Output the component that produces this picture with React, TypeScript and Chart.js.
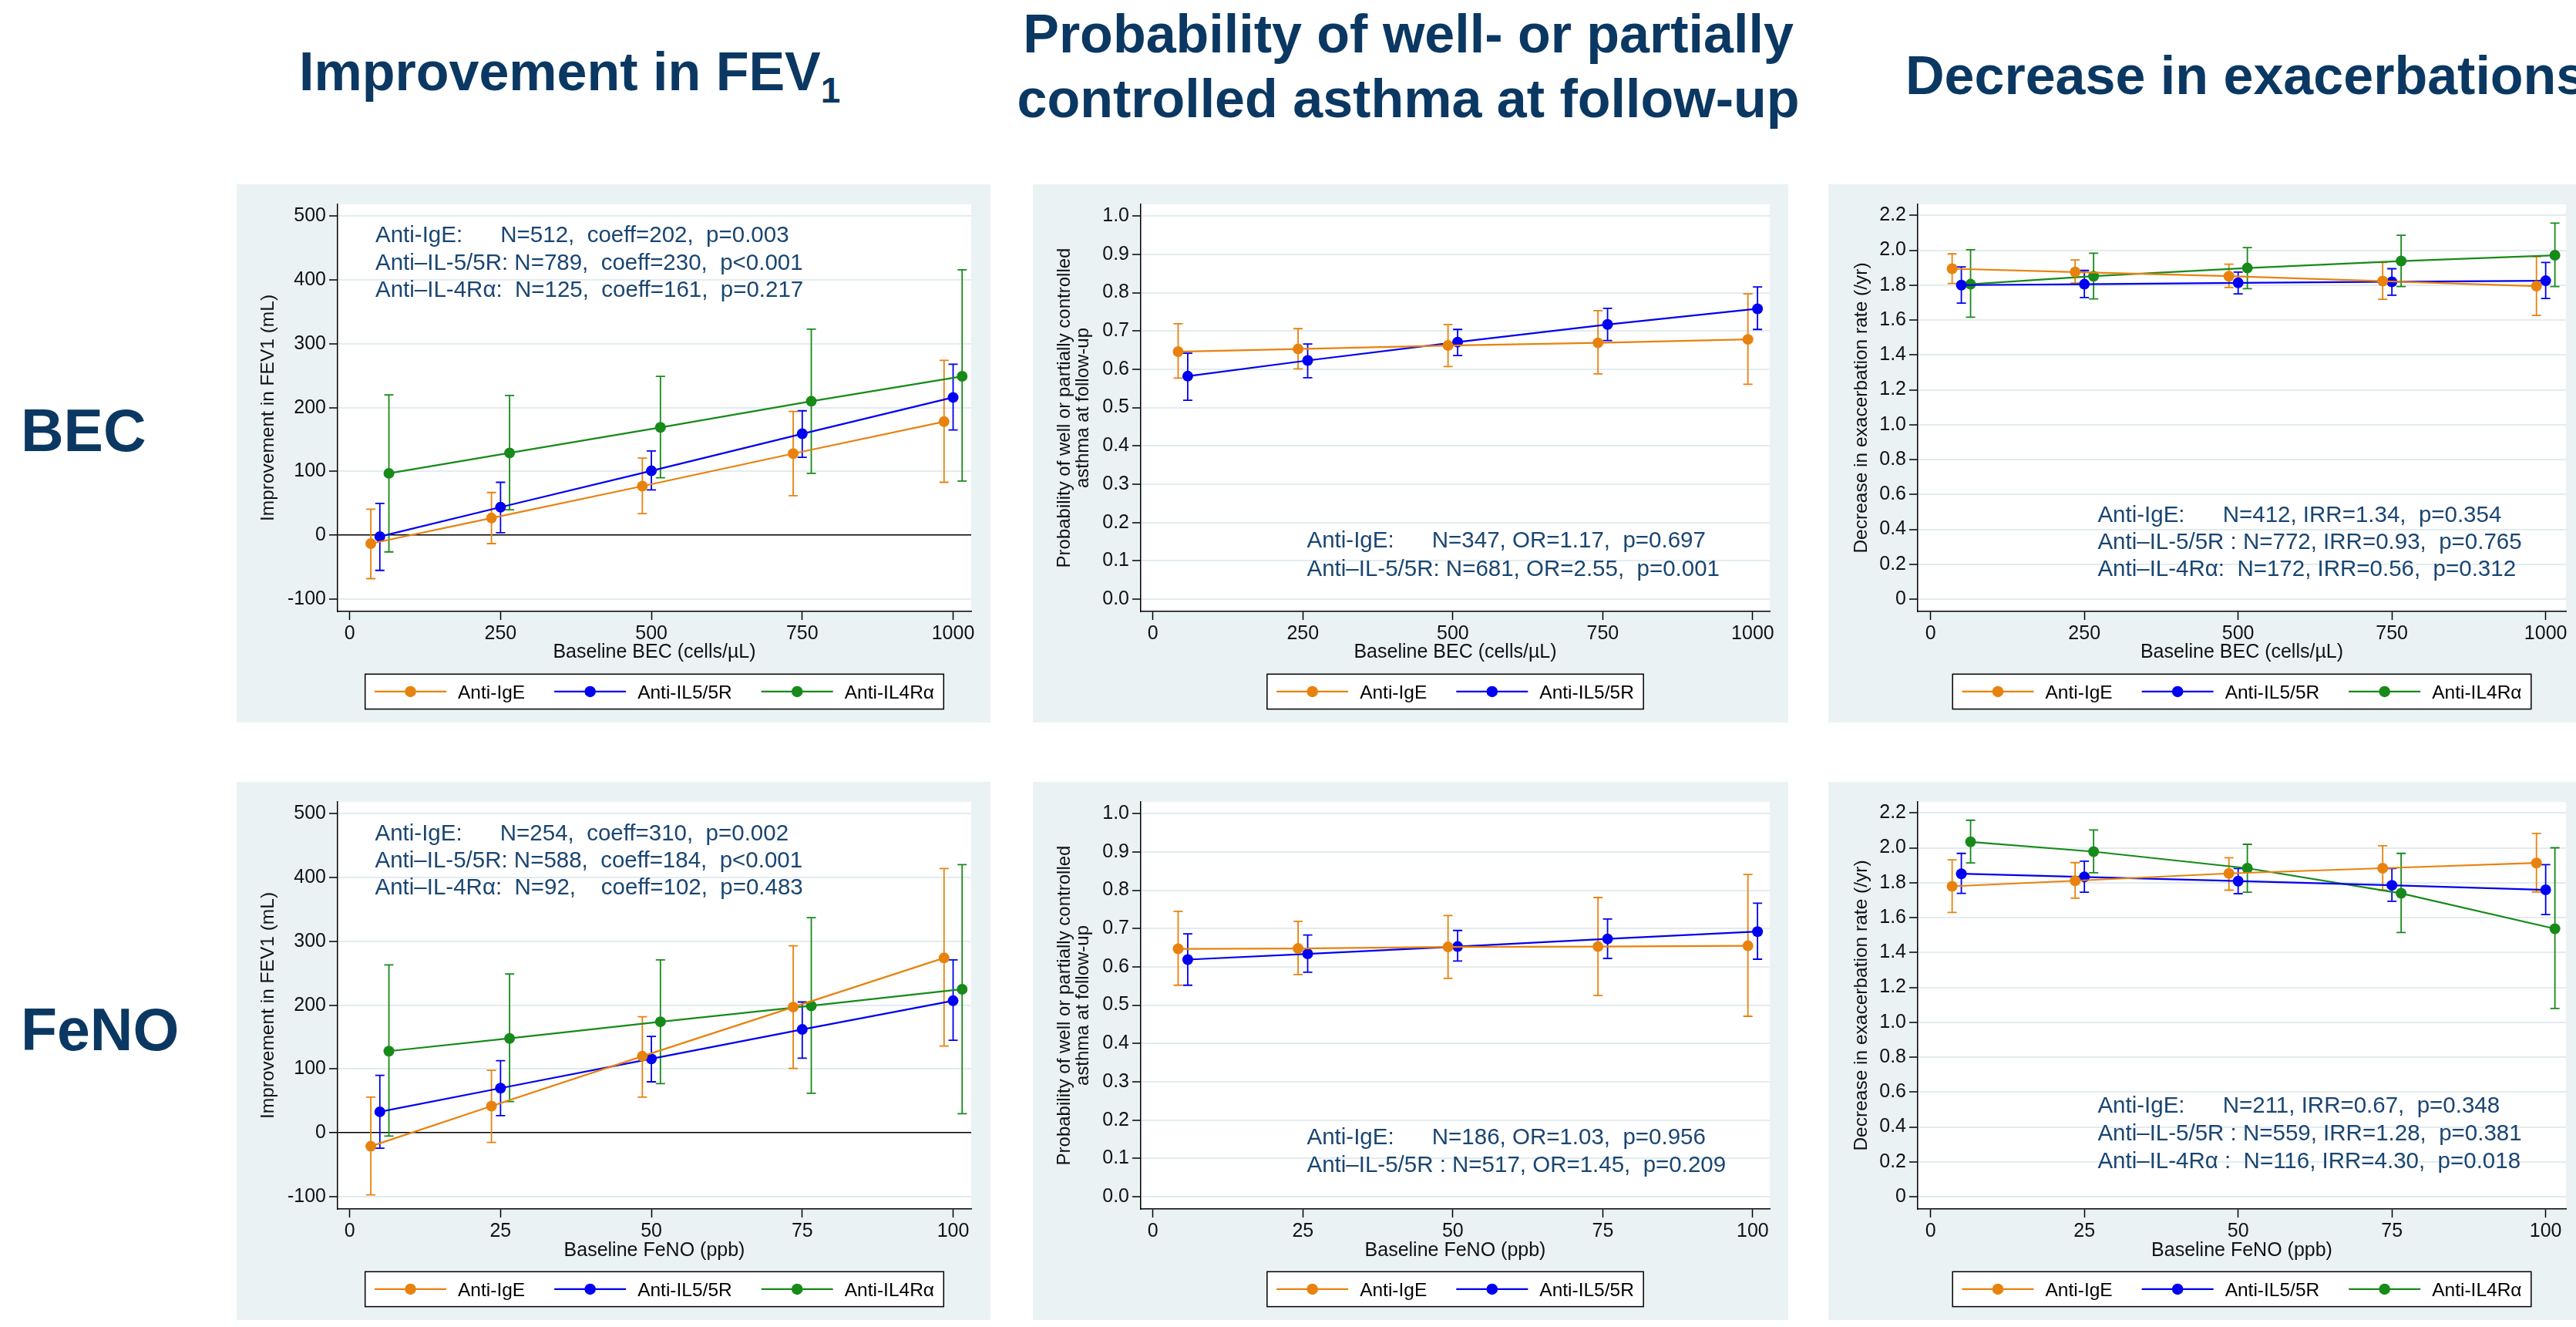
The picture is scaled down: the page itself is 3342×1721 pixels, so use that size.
import React, { useEffect, useRef } from 'react';
import { Chart, registerables } from 'chart.js';

Chart.register(...registerables);

const FONT = '"Liberation Sans", Arial, Helvetica, sans-serif';
Chart.defaults.font.family = FONT;

// ---------- colours ----------
const ORANGE = '#E8820E';
const BLUE = '#0000F0';
const GREEN = '#178A1A';
const PANEL_BG = '#EAF2F3';
const GRID = '#E3ECEE';
const NOTE_COLOR = '#1A4672';
const TITLE_COLOR = '#0B3862';

// ---------- tick values / labels ----------
const becTicks = [0, 250, 500, 750, 1000];
const fenoTicks = [0, 25, 50, 75, 100];
const fevTicks = [-100, 0, 100, 200, 300, 400, 500];
const fevTickLabels = ['-100', '0', '100', '200', '300', '400', '500'];
const probTicks = [0, 0.1, 0.2, 0.3, 0.4, 0.5, 0.6, 0.7, 0.8, 0.9, 1.0];
const probTickLabels = ['0.0', '0.1', '0.2', '0.3', '0.4', '0.5', '0.6', '0.7', '0.8', '0.9', '1.0'];
const exacTicks = [0, 0.2, 0.4, 0.6, 0.8, 1.0, 1.2, 1.4, 1.6, 1.8, 2.0, 2.2];
const exacTickLabels = ['0', '0.2', '0.4', '0.6', '0.8', '1.0', '1.2', '1.4', '1.6', '1.8', '2.0', '2.2'];

const seriesLabels = ['Anti-IgE', 'Anti-IL5/5R', 'Anti-IL4Rα'];

// ---------- Panel A: BEC / FEV1 ----------
const xA_ige = [35, 235, 485, 735, 985];
const xA_il5 = [50, 250, 500, 750, 1000];
const xA_il4 = [65, 265, 515, 765, 1015];
const yA_ige = [-13, 27, 77, 128, 178];
const loA_ige = [-68, -13, 34, 62, 83];
const hiA_ige = [41, 67, 121, 194, 274];
const yA_il5 = [-2, 44, 101, 159, 216];
const loA_il5 = [-55, 4, 71, 122, 165];
const hiA_il5 = [50, 83, 132, 195, 268];
const yA_il4 = [97, 129, 169, 210, 249];
const loA_il4 = [-26, 40, 90, 97, 85];
const hiA_il4 = [220, 219, 249, 323, 416];

// ---------- Panel B: BEC / probability ----------
const xB_ige = [42, 242, 492, 742, 992];
const xB_il5 = [58, 258, 508, 758, 1008];
const yB_ige = [0.646, 0.653, 0.662, 0.669, 0.678];
const loB_ige = [0.577, 0.601, 0.607, 0.588, 0.561];
const hiB_ige = [0.719, 0.706, 0.717, 0.753, 0.797];
const yB_il5 = [0.582, 0.623, 0.671, 0.717, 0.758];
const loB_il5 = [0.519, 0.578, 0.636, 0.675, 0.704];
const hiB_il5 = [0.642, 0.666, 0.704, 0.759, 0.815];

// ---------- Panel C: BEC / exacerbations ----------
const xC_ige = [35, 235, 485, 735, 985];
const xC_il5 = [50, 250, 500, 750, 1000];
const xC_il4 = [65, 265, 515, 765, 1015];
const yC_ige = [1.894, 1.875, 1.851, 1.823, 1.794];
const loC_ige = [1.809, 1.811, 1.786, 1.719, 1.626];
const hiC_ige = [1.979, 1.944, 1.92, 1.93, 1.963];
const yC_il5 = [1.8, 1.805, 1.813, 1.819, 1.825];
const loC_il5 = [1.697, 1.729, 1.75, 1.742, 1.723];
const hiC_il5 = [1.904, 1.884, 1.875, 1.894, 1.93];
const yC_il4 = [1.805, 1.851, 1.898, 1.938, 1.971];
const loC_il4 = [1.616, 1.721, 1.78, 1.792, 1.792];
const hiC_il4 = [2.003, 1.983, 2.015, 2.086, 2.155];

// ---------- Panel D: FeNO / FEV1 ----------
const xD_ige = [3.5, 23.5, 48.5, 73.5, 98.5];
const xD_il5 = [5, 25, 50, 75, 100];
const xD_il4 = [6.5, 26.5, 51.5, 76.5, 101.5];
const yD_ige = [-21, 42, 120, 197, 274];
const loD_ige = [-97, -15, 56, 101, 136];
const hiD_ige = [56, 98, 182, 293, 414];
const yD_il5 = [33, 70, 116, 162, 207];
const loD_il5 = [-24, 27, 80, 117, 145];
const hiD_il5 = [90, 113, 151, 205, 271];
const yD_il4 = [128, 148, 174, 199, 225];
const loD_il4 = [-5, 49, 77, 62, 30];
const hiD_il4 = [263, 249, 271, 337, 420];

// ---------- Panel E: FeNO / probability ----------
const xE_ige = [4.2, 24.2, 49.2, 74.2, 99.2];
const xE_il5 = [5.8, 25.8, 50.8, 75.8, 100.8];
const yE_ige = [0.647, 0.648, 0.652, 0.653, 0.655];
const loE_ige = [0.552, 0.58, 0.57, 0.525, 0.471];
const hiE_ige = [0.745, 0.719, 0.734, 0.781, 0.841];
const yE_il5 = [0.619, 0.634, 0.653, 0.673, 0.692];
const loE_il5 = [0.552, 0.586, 0.615, 0.622, 0.62];
const hiE_il5 = [0.686, 0.683, 0.695, 0.725, 0.766];

// ---------- Panel F: FeNO / exacerbations ----------
const xF_ige = [3.5, 23.5, 48.5, 73.5, 98.5];
const xF_il5 = [5, 25, 50, 75, 100];
const xF_il4 = [6.5, 26.5, 51.5, 76.5, 101.5];
const yF_ige = [1.779, 1.811, 1.853, 1.883, 1.913];
const loF_ige = [1.629, 1.711, 1.757, 1.757, 1.747];
const hiF_ige = [1.931, 1.915, 1.943, 2.012, 2.082];
const yF_il5 = [1.851, 1.833, 1.809, 1.785, 1.759];
const loF_il5 = [1.739, 1.745, 1.737, 1.693, 1.617];
const hiF_il5 = [1.968, 1.923, 1.881, 1.881, 1.903];
const yF_il4 = [2.034, 1.978, 1.883, 1.739, 1.536];
const loF_il4 = [1.913, 1.857, 1.745, 1.514, 1.079];
const hiF_il4 = [2.158, 2.102, 2.02, 1.968, 2.0];

// ---------- annotation texts ----------
const notesA = [
  'Anti-IgE:      N=512,  coeff=202,  p=0.003',
  'Anti–IL-5/5R: N=789,  coeff=230,  p<0.001',
  'Anti–IL-4Rα:  N=125,  coeff=161,  p=0.217',
];
const notesB = [
  'Anti-IgE:      N=347, OR=1.17,  p=0.697',
  'Anti–IL-5/5R: N=681, OR=2.55,  p=0.001',
];
const notesC = [
  'Anti-IgE:      N=412, IRR=1.34,  p=0.354',
  'Anti–IL-5/5R : N=772, IRR=0.93,  p=0.765',
  'Anti–IL-4Rα:  N=172, IRR=0.56,  p=0.312',
];
const notesD = [
  'Anti-IgE:      N=254,  coeff=310,  p=0.002',
  'Anti–IL-5/5R: N=588,  coeff=184,  p<0.001',
  'Anti–IL-4Rα:  N=92,    coeff=102,  p=0.483',
];
const notesE = [
  'Anti-IgE:      N=186, OR=1.03,  p=0.956',
  'Anti–IL-5/5R : N=517, OR=1.45,  p=0.209',
];
const notesF = [
  'Anti-IgE:      N=211, IRR=0.67,  p=0.348',
  'Anti–IL-5/5R : N=559, IRR=1.28,  p=0.381',
  'Anti–IL-4Rα :  N=116, IRR=4.30,  p=0.018',
];

// ---------- layout ----------
const COLS = [
  { bgL: 307, w: 978, axisW: 131, padR: 25, yTitlePad: 26.1, xRange: [-20, 1030] },
  { bgL: 1340, w: 980, axisW: 140, padR: 24, yTitlePad: 29, xRange: [-20.3, 1028.4] },
  { bgL: 2372, w: 981, axisW: 116, padR: 24, yTitlePad: 28.3, xRange: [-20.9, 1033] },
];
const ROWS = [
  { bgT: 239, h: 698, padT: 26, xAxisH: 144, xTitlePad: 75.8 },
  { bgT: 1014, h: 698, padT: 26, xAxisH: 144, xTitlePad: 75.3 },
];

type Series = { label: string; color: string; x: number[]; y: number[]; lo: number[]; hi: number[] };
type PanelSpec = {
  col: number;
  row: number;
  feno: boolean;
  yMin: number;
  yMax: number;
  yTicks: number[];
  yTickLabels: string[];
  yTitle: string | string[];
  yTitleLH: number;
  zeroLine: boolean;
  series: Series[];
  notes: string[];
  noteDx: number;
  noteDy: number;
  noteGap: number;
};

const S = (i: number, color: string, x: number[], y: number[], lo: number[], hi: number[]): Series => ({
  label: seriesLabels[i], color, x, y, lo, hi,
});

const FEV_TITLE = 'Improvement in FEV1 (mL)';
const PROB_TITLE = ['Probability of well or partially controlled', 'asthma at follow-up'];
const EXAC_TITLE = 'Decrease in exacerbation rate (/yr)';

const PANELS: PanelSpec[] = [
  {
    col: 0, row: 0, feno: false, yMin: -119.3, yMax: 518.4, yTicks: fevTicks, yTickLabels: fevTickLabels,
    yTitle: FEV_TITLE, yTitleLH: 1.2, zeroLine: true,
    series: [S(0, ORANGE, xA_ige, yA_ige, loA_ige, hiA_ige), S(1, BLUE, xA_il5, yA_il5, loA_il5, hiA_il5), S(2, GREEN, xA_il4, yA_il4, loA_il4, hiA_il4)],
    notes: notesA, noteDx: 49, noteDy: 49.3, noteGap: 35.2,
  },
  {
    col: 1, row: 0, feno: false, yMin: -0.0322, yMax: 1.0306, yTicks: probTicks, yTickLabels: probTickLabels,
    yTitle: PROB_TITLE, yTitleLH: 1.0, zeroLine: false,
    series: [S(0, ORANGE, xB_ige, yB_ige, loB_ige, hiB_ige), S(1, BLUE, xB_il5, yB_il5, loB_il5, hiB_il5)],
    notes: notesB, noteDx: 215.5, noteDy: 445.3, noteGap: 36.5,
  },
  {
    col: 2, row: 0, feno: false, yMin: -0.0707, yMax: 2.263, yTicks: exacTicks, yTickLabels: exacTickLabels,
    yTitle: EXAC_TITLE, yTitleLH: 1.2, zeroLine: false,
    series: [S(0, ORANGE, xC_ige, yC_ige, loC_ige, hiC_ige), S(1, BLUE, xC_il5, yC_il5, loC_il5, hiC_il5), S(2, GREEN, xC_il4, yC_il4, loC_il4, hiC_il4)],
    notes: notesC, noteDx: 233.4, noteDy: 411.8, noteGap: 35.3,
  },
  {
    col: 0, row: 1, feno: true, yMin: -119.3, yMax: 518.4, yTicks: fevTicks, yTickLabels: fevTickLabels,
    yTitle: FEV_TITLE, yTitleLH: 1.2, zeroLine: true,
    series: [S(0, ORANGE, xD_ige, yD_ige, loD_ige, hiD_ige), S(1, BLUE, xD_il5, yD_il5, loD_il5, hiD_il5), S(2, GREEN, xD_il4, yD_il4, loD_il4, hiD_il4)],
    notes: notesD, noteDx: 48.5, noteDy: 49.5, noteGap: 35.3,
  },
  {
    col: 1, row: 1, feno: true, yMin: -0.0322, yMax: 1.0306, yTicks: probTicks, yTickLabels: probTickLabels,
    yTitle: PROB_TITLE, yTitleLH: 1.0, zeroLine: false,
    series: [S(0, ORANGE, xE_ige, yE_ige, loE_ige, hiE_ige), S(1, BLUE, xE_il5, yE_il5, loE_il5, hiE_il5)],
    notes: notesE, noteDx: 215.5, noteDy: 444.3, noteGap: 36,
  },
  {
    col: 2, row: 1, feno: true, yMin: -0.0707, yMax: 2.263, yTicks: exacTicks, yTickLabels: exacTickLabels,
    yTitle: EXAC_TITLE, yTitleLH: 1.2, zeroLine: false,
    series: [S(0, ORANGE, xF_ige, yF_ige, loF_ige, hiF_ige), S(1, BLUE, xF_il5, yF_il5, loF_il5, hiF_il5), S(2, GREEN, xF_il4, yF_il4, loF_il4, hiF_il4)],
    notes: notesF, noteDx: 233.4, noteDy: 403.1, noteGap: 35.7,
  },
];

// ---------- plugins ----------
const plotBgPlugin = {
  id: 'plotBg',
  beforeDraw(chart: any) {
    const { ctx, chartArea: a } = chart;
    ctx.save();
    ctx.fillStyle = '#ffffff';
    ctx.fillRect(a.left, a.top, a.right - a.left, a.bottom - a.top);
    ctx.restore();
  },
};

const errorBarPlugin = {
  id: 'errBars',
  beforeDatasetsDraw(chart: any) {
    const { ctx, scales } = chart;
    const xs = scales.x;
    const ys = scales.y;
    chart.data.datasets.forEach((ds: any) => {
      ctx.save();
      ctx.strokeStyle = ds.borderColor;
      ctx.lineWidth = 1.8;
      ds.data.forEach((p: any, i: number) => {
        const px = xs.getPixelForValue(p.x);
        const yl = ys.getPixelForValue(ds.errLo[i]);
        const yh = ys.getPixelForValue(ds.errHi[i]);
        ctx.beginPath();
        ctx.moveTo(px, yl);
        ctx.lineTo(px, yh);
        ctx.moveTo(px - 6, yl);
        ctx.lineTo(px + 6, yl);
        ctx.moveTo(px - 6, yh);
        ctx.lineTo(px + 6, yh);
        ctx.stroke();
      });
      ctx.restore();
    });
  },
};

const decorPlugin = {
  id: 'decor',
  afterDraw(chart: any, _args: any, opts: any) {
    const { ctx, chartArea: a } = chart;
    ctx.save();
    // annotation text
    ctx.font = `29.5px ${FONT}`;
    ctx.fillStyle = NOTE_COLOR;
    ctx.textAlign = 'left';
    ctx.textBaseline = 'alphabetic';
    (opts.notes as string[]).forEach((t, i) => {
      ctx.fillText(t, a.left + opts.noteDx, a.top + opts.noteDy + i * opts.noteGap);
    });
    // legend box
    const fs = 24.5;
    ctx.font = `${fs}px ${FONT}`;
    const items = chart.data.datasets.map((ds: any) => ({
      label: ds.label,
      color: ds.borderColor,
      w: ctx.measureText(ds.label).width,
    }));
    const LINE = 93, GAP = 15, ITEM_GAP = 38, PAD = 12.3, H = 45.3;
    const total = PAD * 2 + items.reduce((s: number, it: any) => s + LINE + GAP + it.w, 0) + ITEM_GAP * (items.length - 1);
    const cx = (a.left + a.right) / 2;
    const bx = cx - total / 2;
    const by = a.bottom + 81.3;
    ctx.fillStyle = '#ffffff';
    ctx.fillRect(bx, by, total, H);
    ctx.strokeStyle = '#000000';
    ctx.lineWidth = 1.5;
    ctx.strokeRect(bx, by, total, H);
    let x = bx + PAD;
    const my = by + H / 2;
    items.forEach((it: any) => {
      ctx.strokeStyle = it.color;
      ctx.lineWidth = 2.2;
      ctx.beginPath();
      ctx.moveTo(x, my);
      ctx.lineTo(x + LINE, my);
      ctx.stroke();
      ctx.fillStyle = it.color;
      ctx.beginPath();
      ctx.arc(x + LINE / 2, my, 7.3, 0, Math.PI * 2);
      ctx.fill();
      ctx.fillStyle = '#000000';
      ctx.fillText(it.label, x + LINE + GAP, my + 0.358 * fs);
      x += LINE + GAP + it.w + ITEM_GAP;
    });
    ctx.restore();
  },
};

// ---------- chart panel ----------
function Panel({ spec }: { spec: PanelSpec }) {
  const ref = useRef<HTMLCanvasElement>(null);
  const col = COLS[spec.col];
  const row = ROWS[spec.row];

  useEffect(() => {
    const xTicks = spec.feno ? fenoTicks : becTicks;
    const xDiv = spec.feno ? 10 : 1;
    const xTitle = spec.feno ? 'Baseline FeNO (ppb)' : 'Baseline BEC (cells/µL)';
    const datasets = spec.series.map((s) => ({
      label: s.label,
      data: s.x.map((xv, i) => ({ x: xv, y: s.y[i] })),
      errLo: s.lo,
      errHi: s.hi,
      borderColor: s.color,
      backgroundColor: s.color,
      pointBackgroundColor: s.color,
      pointBorderColor: s.color,
      pointRadius: 7,
      pointBorderWidth: 0,
      borderWidth: 2.2,
      tension: 0,
      fill: false,
    }));
    const tickFont = { family: FONT, size: 25 };
    const chart = new Chart(ref.current as HTMLCanvasElement, {
      type: 'line',
      data: { datasets } as any,
      plugins: [plotBgPlugin, errorBarPlugin, decorPlugin],
      options: {
        responsive: false,
        animation: false,
        events: [],
        layout: { padding: { top: row.padT, right: col.padR, left: 0, bottom: 0 } },
        plugins: {
          legend: { display: false },
          tooltip: { enabled: false },
          decor: { notes: spec.notes, noteDx: spec.noteDx, noteDy: spec.noteDy, noteGap: spec.noteGap },
        } as any,
        scales: {
          x: {
            type: 'linear',
            min: col.xRange[0] / xDiv,
            max: col.xRange[1] / xDiv,
            afterBuildTicks: (s: any) => {
              s.ticks = xTicks.map((v) => ({ value: v }));
            },
            afterFit: (s: any) => {
              s.height = row.xAxisH;
            },
            ticks: {
              font: tickFont,
              color: '#111111',
              padding: 3,
              maxRotation: 0,
              autoSkip: false,
              callback: (v: any) => String(v),
            },
            grid: { drawOnChartArea: false, drawTicks: true, tickLength: 11, tickColor: '#000000', tickWidth: 1.5 },
            border: { display: true, color: '#000000', width: 1.5 },
            title: {
              display: true,
              text: xTitle,
              color: '#111111',
              font: { family: FONT, size: 25, lineHeight: 1.2 },
              padding: { top: 0, bottom: row.xTitlePad },
            },
          },
          y: {
            type: 'linear',
            min: spec.yMin,
            max: spec.yMax,
            afterBuildTicks: (s: any) => {
              s.ticks = spec.yTicks.map((v) => ({ value: v }));
            },
            afterFit: (s: any) => {
              s.width = col.axisW;
            },
            ticks: {
              font: tickFont,
              color: '#111111',
              padding: 4,
              autoSkip: false,
              callback: (_v: any, i: number) => spec.yTickLabels[i],
            },
            grid: {
              color: (c: any) => (spec.zeroLine && c.tick && c.tick.value === 0 ? '#000000' : GRID),
              lineWidth: (c: any) => (spec.zeroLine && c.tick && c.tick.value === 0 ? 1.5 : 2),
              drawTicks: true,
              tickLength: 11,
              tickColor: '#000000',
              tickWidth: 1.5,
            },
            border: { display: true, color: '#000000', width: 1.5 },
            title: {
              display: true,
              text: spec.yTitle,
              color: '#111111',
              font: { family: FONT, size: Array.isArray(spec.yTitle) ? 24 : 24.5, lineHeight: spec.yTitleLH },
              padding: { top: col.yTitlePad, bottom: 0 },
            },
          },
        },
      } as any,
    });
    return () => chart.destroy();
  }, []);

  return (
    <div
      style={{
        position: 'absolute',
        left: col.bgL,
        top: row.bgT,
        width: col.w,
        height: row.h,
        background: PANEL_BG,
      }}
    >
      <canvas ref={ref} width={col.w} height={row.h} style={{ display: 'block', width: col.w, height: row.h }} />
    </div>
  );
}

// ---------- headings ----------
function Heading({
  left,
  center,
  baseline,
  size,
  children,
}: {
  left?: number;
  center?: number;
  baseline: number;
  size: number;
  children: React.ReactNode;
}) {
  const top = baseline - 0.8465 * size;
  const style: React.CSSProperties = {
    position: 'absolute',
    top,
    fontFamily: FONT,
    fontWeight: 700,
    fontSize: size,
    lineHeight: `${size}px`,
    color: TITLE_COLOR,
    whiteSpace: 'pre',
  };
  if (center !== undefined) {
    style.left = center - 1000;
    style.width = 2000;
    style.textAlign = 'center';
  } else {
    style.left = left;
  }
  return <div style={style}>{children}</div>;
}

export default function App() {
  return (
    <div
      style={{
        position: 'fixed',
        left: 0,
        top: 0,
        width: 3342,
        height: 1721,
        overflow: 'hidden',
        background: '#ffffff',
      }}
    >
      <Heading left={388} baseline={117} size={70}>
        Improvement in FEV
        <span style={{ fontSize: 46, position: 'relative', top: 16, lineHeight: 0 }}>1</span>
      </Heading>
      <Heading center={1827} baseline={68} size={70}>
        Probability of well- or partially
      </Heading>
      <Heading center={1827} baseline={152} size={70}>
        controlled asthma at follow-up
      </Heading>
      <Heading left={2472} baseline={122} size={70}>
        Decrease in exacerbations
      </Heading>
      <Heading left={27} baseline={585} size={77}>
        BEC
      </Heading>
      <Heading left={27} baseline={1362} size={77}>
        FeNO
      </Heading>
      {PANELS.map((p, i) => (
        <Panel key={i} spec={p} />
      ))}
    </div>
  );
}
